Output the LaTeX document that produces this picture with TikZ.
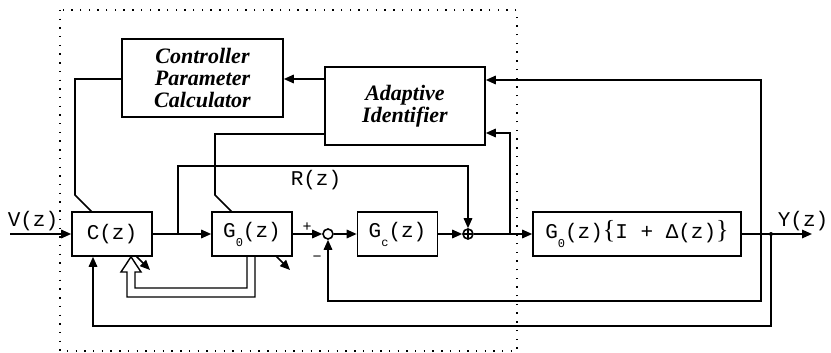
\documentclass[tikz,border=0pt]{standalone}
\usepackage{fontspec}
\setmainfont{Liberation Serif}
\setmonofont{Liberation Mono}
\usetikzlibrary{arrows.meta,calc}
\newcommand\subsc[1]{\raisebox{-9pt}{\fontsize{12}{12}\selectfont #1}}
\newcommand\bigbrace[1]{{\fontsize{26}{26}\selectfont\rmfamily #1}}
\begin{document}
\begin{tikzpicture}[x=1pt,y=-1pt,
  line width=1.6pt,
  blk/.style={draw,fill=white,inner sep=0pt,font=\ttfamily\fontsize{21}{22}\selectfont},
  calcbox/.style={draw,fill=white,inner sep=0pt,align=center,
     font=\fontsize{22}{22}\selectfont\bfseries\itshape},
  arr/.style={-{Triangle[length=10pt,width=8.5pt]}},
  lbl/.style={inner sep=0pt,font=\ttfamily\fontsize{21}{22}\selectfont},
  sign/.style={inner sep=0pt,font=\ttfamily\fontsize{15}{15}\selectfont},
  frame/.style={line width=1.6pt,dash pattern=on 1.4pt off 7.3pt}]
\useasboundingbox (0,0) rectangle (831,353);

% upper blocks
\node[calcbox,minimum width=161pt,minimum height=78pt] (CPC) at (202.5,78)
  {Controller\\Parameter\\Calculator};
\node[calcbox,minimum width=160pt,minimum height=78pt] (AI) at (405,106)
  {Adaptive\\Identifier};

% parameter adjustment lines, drawn first so the blocks cover them
\draw[arr] (CPC.west |- 0,79) -| (75,195) -- (150,270);
\draw[arr] (AI.west |- 0,134) -| (215,195) -- (290,270);

% loop blocks
\node[blk,minimum width=80pt,minimum height=44pt] (C) at (112,234) {C(z)};
\node[blk,minimum width=80pt,minimum height=44pt] (G0) at (252,234) {G\subsc{0}(z)};
\node[blk,minimum width=80pt,minimum height=44pt] (Gc) at (397.5,234) {G\subsc{c}(z)};
\node[blk,minimum width=208pt,minimum height=44pt] (P) at (637,234)
  {G\subsc{0}(z)\bigbrace{\{}I + Δ(z)\bigbrace{\}}};
\node[draw,circle,fill=white,minimum size=10pt,inner sep=0pt] (sum) at (328,234) {};
\node[draw,circle,fill=white,minimum size=10pt,inner sep=0pt,
  path picture={\draw[line width=1.1pt]
    (path picture bounding box.north) -- (path picture bounding box.south)
    (path picture bounding box.west) -- (path picture bounding box.east);}]
  (plus) at (468,234) {};

% free ends and junctions
\coordinate (vin) at (10,234);
\coordinate (rb) at (178,234);
\coordinate (j1) at (510,234);
\coordinate (fbA) at (761,234);
\coordinate (fbB) at (771,234);
\coordinate (yout) at (812,234);

% signal path
\draw[arr] (vin) -- (C.west);
\draw[arr] (C.east) -- (G0.west);
\draw[arr] (G0.east) -- (sum.west);
\draw[arr] (sum.east) -- (Gc.west);
\draw[arr] (Gc.east) -- (plus.west);
\draw[arr] (plus.east) -- (P.west);
\draw[arr] (P.east) -- (yout);
\fill (fbB) circle (2pt);

% reference branch R(z)
\draw[arr] (rb) -- (178,166) -| (plus.north);

% identifier inputs
\draw[arr] (j1) |- (AI.east |- 0,133);
\draw[arr] (761,301) -- (fbA) |- (AI.east |- 0,80);
\draw[arr] (AI.west |- 0,79) -- (CPC.east |- 0,79);

% feedback paths
\draw[arr] (fbA) -- (761,301) -| (sum.south);
\draw[arr] (fbB) -- (771,326) -| (C.south -| 93,0);

% hollow double arrow from G0 back to C
\draw[line width=1.4pt,line join=miter]
  (G0.south -| 247,0) -- (247,288) -- (135,288) -- (135,272) -- (141,272)
  -- (C.south -| 131,0) -- (121,272) -- (127,272) -- (127,297)
  -- (255,297) -- (G0.south -| 255,0);

% labels
\node[lbl] (vlab) at (33,221) {V(z)};
\node[lbl] (rlab) at (316,180) {R(z)};
\node[lbl] (ylab) at (803,221) {Y(z)};
\node[sign] (plab) at (307,227) {+};
\node[sign] (mlab) at (317,259) {−};

% dotted frame round the adaptive part
\draw[frame] (60,10) rectangle (517,351);
\end{tikzpicture}
\end{document}
